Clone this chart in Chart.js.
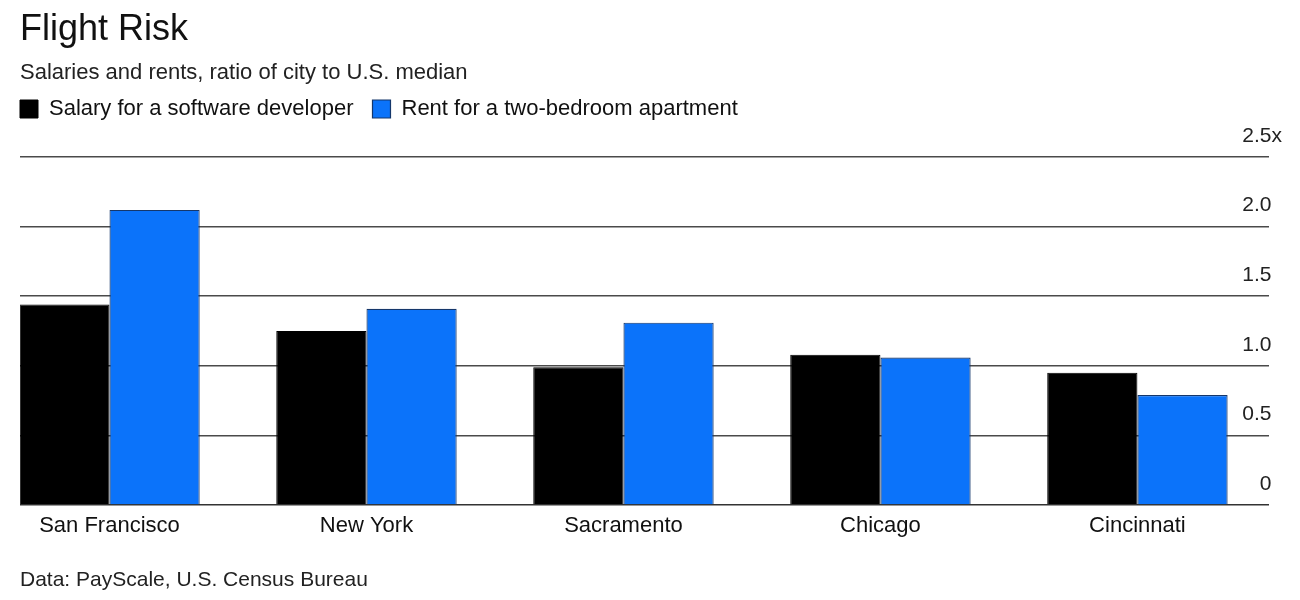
<!DOCTYPE html>
<html>
<head>
<meta charset="utf-8">
<script src="https://cdn.jsdelivr.net/npm/chart.js@4.4.1/dist/chart.umd.min.js"></script>
<style>
  html, body { margin: 0; padding: 0; background: #ffffff; }
  #wrap { width: 1300px; height: 600px; position: relative; }
</style>
</head>
<body>
<div id="wrap"><canvas id="c" width="1300" height="600"></canvas></div>
<script>
// ---- data ----
const cities = ['San Francisco', 'New York', 'Sacramento', 'Chicago', 'Cincinnati'];
const salary = [1.44, 1.25, 0.99, 1.08, 0.95];
const rent = [2.12, 1.41, 1.31, 1.06, 0.79];
const seriesNames = ['Salary for a software developer', 'Rent for a two-bedroom apartment'];
const yTickLabels = ['0', '0.5', '1.0', '1.5', '2.0', '2.5x'];
const titleText = 'Flight Risk';
const subtitleText = 'Salaries and rents, ratio of city to U.S. median';
const sourceText = 'Data: PayScale, U.S. Census Bureau';

const FONT = "'Liberation Sans', Arial, Helvetica, sans-serif";
Chart.defaults.font.family = FONT;
Chart.defaults.color = '#222';

const legendTweak = {
  id: 'legendTweak',
  afterInit(chart) {
    const lg = chart.legend;
    const fit = lg.fit;
    lg.fit = function () { fit.call(this); this.height += 27; };
  },
  afterLayout(chart) {
    const lg = chart.legend;
    lg.left = chart.chartArea.left - lg.options.labels.padding;
  }
};

new Chart(document.getElementById('c'), {
  type: 'bar',
  data: {
    datasets: [
      {
        label: seriesNames[0],
        data: cities.map((c, i) => ({ x: i, y: salary[i] })),
        backgroundColor: '#000000',
        borderColor: '#000000',
        borderWidth: 1
      },
      {
        label: seriesNames[1],
        data: cities.map((c, i) => ({ x: i, y: rent[i] })),
        backgroundColor: '#0b73fa',
        borderColor: '#15376b',
        borderWidth: 1.2
      }
    ]
  },
  plugins: [legendTweak],
  options: {
    responsive: false,
    animation: false,
    devicePixelRatio: 1,
    categoryPercentage: 0.702,
    barPercentage: 1.0,
    layout: { padding: { left: 20, right: 5, top: 0, bottom: 0 } },
    plugins: {
      tooltip: { enabled: false },
      title: {
        display: true,
        text: titleText,
        align: 'start',
        color: '#111',
        font: { size: 36, weight: 'normal', lineHeight: 1.2 },
        padding: { top: 8, bottom: 0 }
      },
      subtitle: {
        display: true,
        text: subtitleText,
        align: 'start',
        color: '#222',
        font: { size: 22, weight: 'normal', lineHeight: 1.2 },
        padding: { top: 9, bottom: -7.6 }
      },
      legend: {
        display: true,
        position: 'top',
        align: 'start',
        labels: {
          boxWidth: 18,
          boxHeight: 18,
          padding: 19,
          color: '#111',
          font: { size: 22 }
        }
      }
    },
    scales: {
      x: {
        type: 'linear',
        offset: false,
        bounds: 'data',
        min: -0.3482,
        max: 4.512,
        grid: { display: false, drawTicks: false, offset: false },
        border: { display: false },
        afterBuildTicks: (scale) => { scale.ticks = cities.map((c, i) => ({ value: i })); },
        ticks: {
          autoSkip: false,
          maxRotation: 0,
          padding: 8,
          color: '#111',
          font: { size: 22 },
          callback: (v) => cities[Math.round(v)]
        },
        title: {
          display: true,
          text: sourceText,
          align: 'start',
          color: '#222',
          font: { size: 21, lineHeight: 1.2 },
          padding: { top: 20.4, bottom: 7 }
        }
      },
      y: {
        position: 'right',
        min: 0,
        max: 2.5,
        afterBuildTicks: (scale) => { scale.ticks = yTickLabels.map((t, i) => ({ value: i * 0.5 })); },
        grid: {
          drawTicks: false,
          color: (ctx) => (ctx.tick && ctx.tick.value === 0 ? '#333' : '#4a4a4a'),
          lineWidth: 1.5
        },
        border: { display: false },
        ticks: {
          mirror: true,
          padding: 13,
          labelOffset: -21,
          color: '#222',
          font: { size: 21 },
          callback: (v, i) => {
            const t = yTickLabels[i];
            return /x$/.test(t) ? t : t + '\u2002';
          }
        }
      }
    }
  }
});
</script>
</body>
</html>
